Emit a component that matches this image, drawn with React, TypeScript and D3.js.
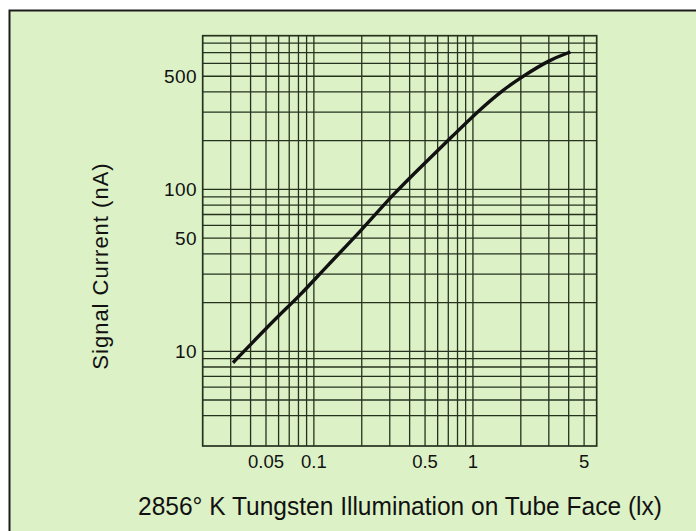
import React, { useEffect, useRef } from 'react';
import * as d3 from 'd3';

// signal current vs. faceplate illumination
const illumination = [0.031, 0.041, 0.061, 0.08, 0.12, 0.2, 0.31, 0.5, 0.75, 1.1, 1.55, 2.05, 3.05, 4.1];
const signalCurrent = [8.5, 11.3, 16.9, 21.6, 33.4, 56, 92, 146, 215, 310, 413, 498, 634, 706];

// log-paper rulings
const xGridValues = [0.03, 0.04, 0.05, 0.06, 0.07, 0.08, 0.09, 0.1, 0.2, 0.3, 0.4, 0.5, 0.6, 0.7, 0.8, 0.9, 1, 2, 3, 4, 5];
const yGridValues = [4, 5, 6, 7, 8, 9, 10, 20, 30, 40, 50, 60, 70, 80, 90, 100, 200, 300, 400, 500, 600, 700, 800, 900];

const xTickLabels = ['0.05', '0.1', '0.5', '1', '5'];
const yTickLabels = ['10', '50', '100', '500'];

const xTitle = '2856° K Tungsten Illumination on Tube Face (lx)';
const yTitle = 'Signal Current (nA)';

const WIDTH = 696;
const HEIGHT = 531;
const plot = { left: 202.7, right: 596.7, top: 35.7, bottom: 446 };
const paper = '#ddf1c6';
const ink = '#25321e';
const font = '"Liberation Sans", Arial, Helvetica, sans-serif';

function draw(svgEl: SVGSVGElement) {
    const svg = d3.select(svgEl);
    svg.selectAll('*').remove();

    const x = d3.scaleLog().domain([0.02, 6]).range([plot.left, plot.right]);
    const y = d3.scaleLog().domain([2.6, 890]).range([plot.bottom, plot.top]);

    svg.append('rect').attr('width', WIDTH).attr('height', HEIGHT).attr('fill', '#ffffff');
    svg.append('rect')
        .attr('x', 9).attr('y', 10)
        .attr('width', WIDTH - 9).attr('height', HEIGHT - 10)
        .attr('fill', paper);
    // card edge, top and left only
    svg.append('path')
        .attr('d', `M9.5,${HEIGHT} V10.5 H${WIDTH}`)
        .attr('fill', 'none')
        .attr('stroke', '#1d1d1d')
        .attr('stroke-width', 2);

    const grid = svg.append('g').attr('stroke', ink).attr('stroke-width', 1.3);
    grid.selectAll('line.v')
        .data(xGridValues.filter(v => x(v) < plot.right - 3))
        .enter().append('line')
        .attr('class', 'v')
        .attr('x1', d => x(d)).attr('x2', d => x(d))
        .attr('y1', plot.top).attr('y2', plot.bottom);
    grid.selectAll('line.h')
        .data(yGridValues.filter(v => y(v) > plot.top + 3))
        .enter().append('line')
        .attr('class', 'h')
        .attr('y1', d => y(d)).attr('y2', d => y(d))
        .attr('x1', plot.left).attr('x2', plot.right);
    grid.append('rect')
        .attr('x', plot.left).attr('y', plot.top)
        .attr('width', plot.right - plot.left).attr('height', plot.bottom - plot.top)
        .attr('fill', 'none')
        .attr('stroke-width', 1.7);

    const line = d3.line<[number, number]>()
        .x(d => x(d[0]))
        .y(d => y(d[1]))
        .curve(d3.curveBasis);
    svg.append('path')
        .datum(illumination.map((v, i) => [v, signalCurrent[i]] as [number, number]))
        .attr('d', line)
        .attr('fill', 'none')
        .attr('stroke', '#111')
        .attr('stroke-width', 3.4);

    svg.append('g')
        .selectAll('text')
        .data(yTickLabels)
        .enter().append('text')
        .attr('x', 197)
        .attr('y', d => y(+d))
        .attr('dy', '0.36em')
        .attr('text-anchor', 'end')
        .attr('font-family', font)
        .attr('font-size', 19)
        .attr('letter-spacing', 0.4)
        .attr('fill', '#111')
        .text(d => d);

    svg.append('g')
        .selectAll('text')
        .data(xTickLabels)
        .enter().append('text')
        .attr('x', d => x(+d))
        .attr('y', 468)
        .attr('text-anchor', 'middle')
        .attr('font-family', font)
        .attr('font-size', 18.5)
        .attr('fill', '#111')
        .text(d => d);

    svg.append('text')
        .attr('transform', `translate(108,266) rotate(-90)`)
        .attr('text-anchor', 'middle')
        .attr('font-family', font)
        .attr('font-size', 22)
        .attr('letter-spacing', 1)
        .attr('fill', '#111')
        .text(yTitle);

    svg.append('text')
        .attr('x', 138)
        .attr('y', 515)
        .attr('font-family', font)
        .attr('font-size', 26)
        .attr('fill', '#111')
        .attr('textLength', 524)
        .attr('lengthAdjust', 'spacingAndGlyphs')
        .text(xTitle);
}

export default function App() {
    const ref = useRef<SVGSVGElement>(null);
    useEffect(() => {
        if (ref.current) {
            draw(ref.current);
        }
    }, []);
    return (
        <svg
            ref={ref}
            width={WIDTH}
            height={HEIGHT}
            style={{ position: 'absolute', left: 0, top: 0, display: 'block' }}
        />
    );
}
